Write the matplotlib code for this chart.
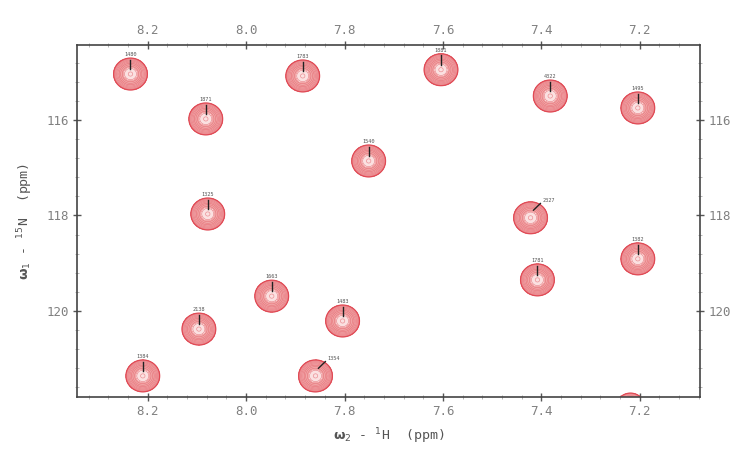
import numpy as np
import matplotlib
matplotlib.use("Agg")
import matplotlib.pyplot as plt
from matplotlib.ticker import MultipleLocator

# Peak data (1H ppm, 15N ppm, label)
h_ppm = [8.235, 8.082, 7.885, 7.604, 7.382, 7.204, 7.751, 8.078, 7.422,
         7.408, 7.204, 7.948, 8.096, 7.804, 8.210, 7.859, 7.219, 7.910]
n_ppm = [115.04, 115.98, 115.08, 114.95, 115.50, 115.75, 116.86, 117.97, 118.05,
         119.35, 118.91, 119.69, 120.38, 120.21, 121.36, 121.36, 122.00, 121.98]
labels = ["1480", "1871", "1783", "1881", "4322", "1495", "1540", "1325", "2327",
          "1781", "1382", "1663", "2138", "1483", "1384", "1354", "", ""]
intens = [1.0, 1.0, 1.0, 1.0, 1.0, 1.0, 1.0, 1.0, 1.0,
          1.0, 1.0, 1.0, 1.0, 1.0, 1.0, 1.0, 0.6, 0.22]
label_side = ["top"] * 8 + ["right"] + ["top"] * 6 + ["right", "none", "none"]

x_ticks = [8.2, 8.0, 7.8, 7.6, 7.4, 7.2]
y_ticks = [116, 118, 120]

fig = plt.figure(figsize=(7.39, 4.49), dpi=100)
ax = fig.add_axes([0.104, 0.116, 0.843, 0.784])

xlim = (8.344, 7.078)
ylim = (121.8, 114.43)

gx = np.linspace(7.0, 8.42, 1000)
gy = np.linspace(114.0, 122.4, 800)
X, Y = np.meshgrid(gx, gy)
Z = np.zeros_like(X)
sx, sy = 0.0185, 0.18
for h, n, a in zip(h_ppm, n_ppm, intens):
    Z += a * np.exp(-((X - h) ** 2 / (2 * sx ** 2) + (Y - n) ** 2 / (2 * sy ** 2)))

levels = np.geomspace(0.18, 0.97, 10)
ax.contourf(X, Y, Z, levels=[0.18, 0.45, 0.8, 2],
            colors=["#f4a9ab", "#f2a2a4", "#fbe0e0"], alpha=0.95)
ax.contour(X, Y, Z, levels=levels, colors="#e2646c", linewidths=0.45, alpha=0.7)
ax.contour(X, Y, Z, levels=[0.18], colors="#e04a55", linewidths=0.9)

for h, n, lab, side in zip(h_ppm, n_ppm, labels, label_side):
    if side == "top":
        ax.plot([h, h], [n - 0.30, n - 0.10], color="#222222", lw=1.0)
        ax.text(h, n - 0.36, lab, fontsize=3.8, color="#555555", ha="center", va="bottom",
                family="DejaVu Sans Mono")
    elif side == "right":
        ax.plot([h - 0.006, h - 0.02], [n - 0.16, n - 0.30], color="#222222", lw=1.0)
        ax.text(h - 0.025, n - 0.32, lab, fontsize=3.8, color="#555555", ha="left", va="bottom",
                family="DejaVu Sans Mono")

ax.set_xlim(*xlim)
ax.set_ylim(*ylim)
ax.set_xticks(x_ticks)
ax.set_yticks(y_ticks)
ax.xaxis.set_minor_locator(MultipleLocator(0.04))
ax.yaxis.set_minor_locator(MultipleLocator(0.4))
ax.tick_params(which="both", direction="inout", top=True, right=True,
               labeltop=True, labelright=True, colors="#555555",
               labelsize=9, labelcolor="#808080", pad=3)
ax.tick_params(which="major", length=6, width=1.0)
ax.tick_params(which="minor", length=3, width=0.6, color="#aaaaaa")
for lab in ax.get_xticklabels() + ax.get_yticklabels():
    lab.set_family("DejaVu Sans Mono")
for s in ax.spines.values():
    s.set_color("#444444")
    s.set_linewidth(1.2)

ax.set_xlabel(r"$\mathbf{\omega}_2$ - $^1$H  (ppm)", fontsize=9.5, color="#555555",
              family="DejaVu Sans Mono", labelpad=6)
ax.set_ylabel(r"$\mathbf{\omega}_1$ - $^{15}$N  (ppm)", fontsize=9.5, color="#555555",
              family="DejaVu Sans Mono", labelpad=8)

fig.savefig("out.png", dpi=100)
